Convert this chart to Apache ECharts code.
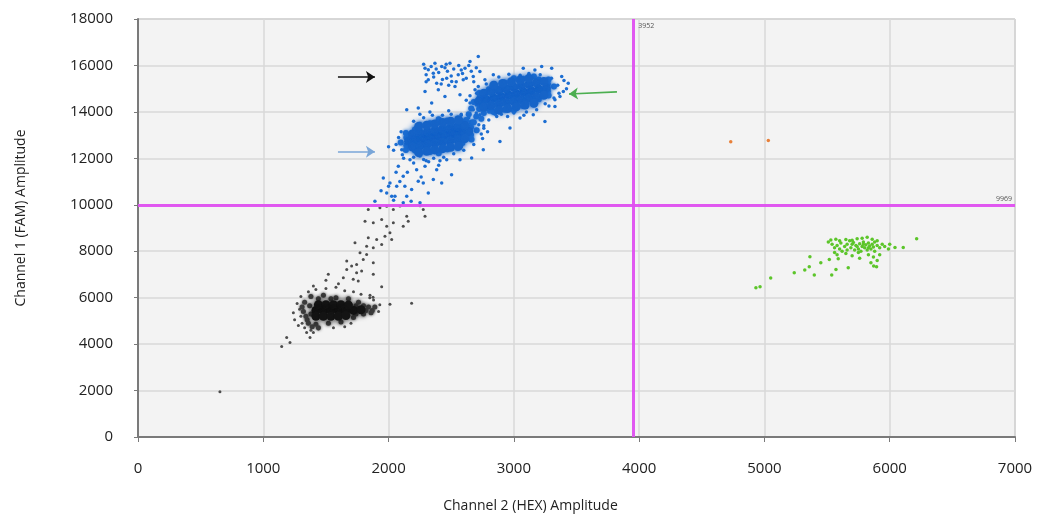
<!DOCTYPE html>
<html>
<head>
<meta charset="utf-8">
<script src="https://cdn.jsdelivr.net/npm/echarts@6/dist/echarts.min.js"></script>
<style>html,body{margin:0;padding:0;background:#fff}#c{width:1038px;height:518px}</style>
</head>
<body>
<div id="c"></div>
<script>
// ---- axes ----
const xMin = 0, xMax = 7000, xStep = 1000;
const yMin = 0, yMax = 18000, yStep = 2000;
const xName = 'Channel 2 (HEX) Amplitude';
const yName = 'Channel 1 (FAM) Amplitude';

// ---- thresholds ----
const hexThreshold = 3952;
const famThreshold = 9969;

// ---- annotation arrows (data units: from -> to) ----
const arrowBlack = [[1596, 15507], [1891, 15507]];
const arrowLightBlue = [[1596, 12285], [1891, 12285]];
const arrowGreen = [[3823, 14860], [3440, 14770]];

// ---- blue (FAM+) droplets ----
const blueCore = [
  // lower dense cluster
  [2160,12741],[2220,12793],[2280,12846],[2340,12898],[2400,12950],[2460,13002],[2520,13054],[2580,13107],[2640,13159],
  [2190,13047],[2250,13099],[2310,13152],[2370,13204],[2430,13256],[2490,13308],[2550,13361],[2610,13413],
  [2190,12487],[2250,12539],[2310,12592],[2370,12644],[2430,12696],[2490,12748],[2550,12801],[2610,12853],
  [2240,13371],[2304,13426],[2368,13482],[2432,13538],[2496,13594],[2560,13649],
  [2240,12251],[2304,12306],[2368,12362],[2432,12418],[2496,12474],[2560,12529],
  // upper dense cluster
  [2720,14466],[2780,14529],[2840,14592],[2900,14655],[2960,14718],[3020,14781],[3080,14844],[3140,14907],[3200,14970],[3260,15033],
  [2760,14808],[2820,14871],[2880,14934],[2940,14997],[3000,15060],[3060,15123],[3120,15186],[3180,15249],[3240,15312],
  [2760,14208],[2820,14271],[2880,14334],[2940,14397],[3000,14460],[3060,14523],[3120,14586],[3180,14649],[3240,14712],
  [2840,15152],[2910,15225],[2980,15299],[3050,15373],[3120,15446],
  [2880,14074],[2950,14147],[3020,14221],[3090,14295],[3160,14368]
];
const blueRing = [
  [2703,13214],[2662,13543],[2552,13714],[2400,13680],[2248,13450],[2138,13087],[2097,12686],[2138,12357],
  [2248,12186],[2400,12220],[2552,12450],[2662,12813],
  [2658,13340],[2589,13568],[2469,13630],[2331,13510],[2211,13240],[2142,12892],[2142,12560],[2211,12332],
  [2331,12270],[2469,12390],[2589,12660],[2658,13008],
  [3320,15096],[3277,15396],[3160,15526],[3000,15450],[2840,15190],[2723,14814],[2680,14424],[2723,14124],
  [2840,13994],[3000,14070],[3160,14330],[3277,14706],
  [3272,15203],[3199,15398],[3073,15423],[2927,15269],[2801,14980],[2728,14631],[2728,14317],[2801,14122],
  [2927,14097],[3073,14251],[3199,14540],[3272,14889],
  [2640,13900],[2700,13800],[2760,13950],[2820,14050],[2620,13650],[2680,13550],[2740,13700],[2660,14150]
];
const blueDots = [
  // halo around lower cluster
  [2060,12600],[2080,12900],[2100,13150],[2040,12350],[2110,12150],[2000,12500],
  [2200,13600],[2280,13750],[2350,13850],[2430,13850],[2500,13900],[2580,13850],[2640,13750],[2250,13900],
  [2145,14090],[2237,14163],[2330,14000],[2480,14050],
  [2200,12050],[2280,11950],[2360,12000],[2440,12050],[2520,12200],[2600,12350],[2680,12600],[2320,11850],[2410,11900],
  [2740,13050],[2760,13300],[2720,13450],[2790,13150],[2750,12850],
  // tail toward threshold
  [1891,10152],[1985,10512],[2025,10366],[2065,10796],[2117,11225],[2078,11655],[2171,11943],[2224,11513],
  [2277,10942],[2317,10512],[2251,10083],[2145,10366],[2105,12372],[2384,11513],[2503,11298],[2570,11943],
  [2464,11943],[2331,12372],[2197,12372],[2011,10942],[1958,11156],[2051,10366],[2117,10083],[2184,10654],
  [2237,11011],[2291,11655],[2357,11084],[2424,10942],[2889,12730],[2663,12016],[2756,12372],
  [1940,10600],[2000,10800],[2090,11000],[2150,11400],[2200,11800],[2130,10800],[2260,11200],[2040,10200],
  [2180,10150],[2300,11900],[2400,11700],[2060,11400],[2120,12000],[2250,12100],
  // halo around upper cluster
  [3434,15237],[3395,14877],[3368,14662],[3328,14520],[3382,15521],[3222,15951],[3302,15882],[3168,15809],
  [3075,15882],[2836,15594],[2769,15380],[2716,15092],[2703,14808],[2650,14378],[2676,14091],[2729,13876],
  [2863,13803],[2969,13305],[3248,13588],[3155,13876],[3049,13734],[3328,14233],[3182,14091],
  [2650,14700],[2690,14950],[2780,15200],[2880,15500],[2960,15620],[3050,15580],[3120,15650],[3210,15600],
  [3300,15450],[3350,15150],[3360,14800],[3320,14600],[3250,14350],[3100,14000],[3000,13950],[2900,13900],
  [2800,14000],[2700,14300],[2620,14500],[3420,15000],[3400,15350],[2950,13800],[3080,13850],[3280,14250],
  [2800,13650],[2580,13900],[2720,14200],[2850,13900],[2600,13300],[2760,13400],[2700,13950],[2780,14250],
  // sparse top cluster
  [2291,15882],[2317,15380],[2291,14877],[2357,15667],[2384,15237],[2424,15951],[2464,15452],[2490,16097],
  [2530,15092],[2556,15594],[2610,15882],[2650,16167],[2676,15521],[2716,16381],[2729,15737],[2570,14735],
  [2450,14662],[2344,14378],[2397,14950],[2504,15307],[2596,15380],[2370,16097],[2317,15810],
  [2300,15600],[2340,15950],[2400,15700],[2430,15400],[2470,15750],[2500,15550],[2520,15850],[2560,16000],
  [2590,15650],[2620,15450],[2660,15750],[2700,15900],[2460,16050],[2380,15850],[2300,15300],[2540,15300],
  [2420,15200],[2480,15150],[2680,15300],[2640,16000],[2280,16050],[2360,15500],[2450,15900],[2580,15800]
];

// ---- grey (double negative) droplets ----
const greyCore = [
  [1420,5450],[1480,5450],[1540,5450],[1600,5450],[1660,5450],[1720,5450],[1780,5480],
  [1440,5700],[1500,5700],[1560,5700],[1620,5700],[1680,5680],
  [1420,5200],[1480,5200],[1540,5200],[1600,5200],[1660,5230]
];
const greyRing = [
  [1320,5400],[1330,5800],[1350,5050],[1380,6050],[1420,4850],[1480,6100],[1520,4900],[1580,6000],
  [1620,4950],[1680,5950],[1720,5150],[1760,5800],[1800,5300],[1840,5600],[1870,5450],[1890,5600],
  [1310,5600],[1340,5200],[1820,5450],[1800,5650],[1360,4900],[1390,4750],[1440,4700],[1370,5650],
  [1380,5300],[1740,5300],[1740,5650],[1540,5950],[1440,5950],[1860,5350]
];
const greyDots = [
  [1290,5500],[1300,5200],[1310,4900],[1330,4700],[1380,4600],[1400,4500],[1440,4650],[1360,6250],
  [1420,6350],[1500,6400],[1580,6450],[1650,6300],[1720,6250],[1780,6150],[1850,6000],[1880,5900],
  [1930,5700],[1920,5400],[1560,4700],[1650,4750],[1240,5350],[1270,5750],[1300,6050],[1250,5050],
  [1280,4800],[1346,4498],[1373,4283],[1187,4283],[1213,4068],[1147,3896],[654,1946],[2011,5713],
  [2184,5756],[1945,6474],[1852,6100],[1876,6020],[1700,4900],[1600,6600],[1500,6750],[1400,6500],
  [1838,9795],[1931,9867],[1985,9937],[2038,9795],[2091,9950],[2145,9507],[2251,9960],[2277,9795],
  [2291,9507],[1812,9292],[1878,9223],[1945,9365],[1985,9077],[2038,9223],[2117,9077],[2157,9292],
  [1838,8579],[1905,8506],[1971,8648],[2025,8506],[2011,8794],[1732,8364],[1825,8218],[1878,8150],
  [1945,8291],[1772,7935],[1825,7862],[1666,7574],[1705,7359],[1745,7432],[1798,7647],[1878,7505],
  [1666,7217],[1745,7075],[1785,7144],[1878,7003],[1519,7003],[1639,6861],[1718,6788],[1758,6715]
];

// ---- green (HEX+) droplets ----
const greenDots = [
  [5530,8480],[5570,8520],[5600,8450],[5650,8500],[5700,8470],[5740,8540],[5780,8560],[5820,8600],
  [5860,8520],[5900,8450],[5510,8400],
  [5540,8300],[5580,8250],[5610,8350],[5640,8200],[5660,8300],[5690,8150],[5710,8380],[5730,8250],
  [5750,8100],[5760,8320],[5780,8200],[5790,8400],[5800,8150],[5810,8280],[5820,8050],[5830,8350],
  [5840,8220],[5850,8100],[5860,8300],[5870,8180],[5880,8400],[5900,8250],[5920,8150],[5940,8300],
  [5960,8200],[5680,8450],[5720,8050],[5770,8000],[5600,8100],[5560,8150],[5660,8050],[5700,8300],
  [5740,8200],[5790,8300],[5830,8150],[5880,8000],[5620,8000],[5750,7950],
  [5580,7850],[5650,7900],[5700,7800],[5760,7700],[5830,7850],[5870,7750],[5900,7600],[5920,7850],
  [5850,7500],[5560,7950],
  [6042,8160],[6108,8160],[6215,8536],[5990,8100],[6000,8300],
  [5518,7647],[5589,7675],[5363,7762],[5358,7332],[5322,7190],[5398,6973],[5238,7075],[5050,6843],
  [4965,6474],[4932,6430],[5537,6973],[5571,7217],[5669,7290],[5895,7332],[5872,7362],[5450,7500]
];

// ---- orange (double positive) droplets ----
const orangeDots = [[4731,12716],[5031,12772]];

const BLUE = '#1d6ed2', GREEN = '#5cc52a', ORANGE = '#e8803a', MAGENTA = '#df4ff0';
const FONT = 'Open Sans';

function dots(data, color, size, z, blur) {
  const style = { color: color, opacity: 1 };
  if (blur) { style.shadowBlur = blur; style.shadowColor = color; }
  return { type: 'scatter', data: data, symbol: 'circle', symbolSize: size, z: z || 2,
    itemStyle: style, silent: true, animation: false };
}
function arrow(pts, color) {
  return [{ coord: pts[0], lineStyle: { color: color }, itemStyle: { color: color } }, { coord: pts[1] }];
}
const plain = v => String(v);

const chart = echarts.init(document.getElementById('c'), null, { renderer: 'canvas' });
chart.setOption({
  animation: false,
  backgroundColor: '#ffffff',
  grid: { left: 138, right: 23, top: 19, bottom: 80, show: true, backgroundColor: '#f3f3f3',
          borderColor: '#a8a8a8', borderWidth: 1 },
  xAxis: {
    type: 'value', min: xMin, max: xMax, interval: xStep,
    name: xName, nameLocation: 'middle', nameGap: 62,
    nameTextStyle: { fontFamily: FONT, fontSize: 14, color: '#222', padding: [0, 92, 0, 0] },
    axisLine: { show: true, onZero: false, lineStyle: { color: '#7a7a7a', width: 2 } },
    axisTick: { show: true, length: 5, lineStyle: { color: '#7a7a7a' } },
    axisLabel: { margin: 24, fontFamily: FONT, fontSize: 15, color: '#222', formatter: plain },
    splitLine: { show: true, lineStyle: { color: '#d8d8d8', width: 1.5 } }
  },
  yAxis: {
    type: 'value', min: yMin, max: yMax, interval: yStep,
    name: yName, nameLocation: 'middle', nameGap: 110,
    nameTextStyle: { fontFamily: FONT, fontSize: 14, color: '#222', padding: [0, 0, 0, 20] },
    axisLine: { show: true, onZero: false, lineStyle: { color: '#7a7a7a', width: 2 } },
    axisTick: { show: true, length: 4, lineStyle: { color: '#7a7a7a' } },
    axisLabel: { margin: 25, fontFamily: FONT, fontSize: 15, color: '#222', formatter: plain },
    splitLine: { show: true, lineStyle: { color: '#d8d8d8', width: 1.5 } }
  },
  series: [
    dots(greyDots, '#4d4d4d', 3, 2),
    dots(greyRing, '#3c3c3c', 5, 3, 3),
    dots(greyCore, '#141414', 9, 4, 7),
    dots(blueDots, BLUE, 3.5, 2),
    dots(blueRing, BLUE, 6, 3, 3),
    dots(blueCore, '#1664c8', 9, 4, 6),
    dots(greenDots, GREEN, 3.5, 2),
    dots(orangeDots, ORANGE, 3.5, 2),
    {
      type: 'scatter', data: [], z: 10, silent: true,
      markLine: {
        silent: true, animation: false, symbol: ['none', 'none'],
        label: { show: false },
        lineStyle: { color: MAGENTA, width: 3, type: 'solid', opacity: 0.95 },
        data: [ { xAxis: hexThreshold }, { yAxis: famThreshold } ]
      },
      markPoint: {
        silent: true, animation: false, symbol: 'circle', symbolSize: 0,
        label: { show: true, fontFamily: FONT, fontSize: 7, color: '#555' },
        data: [
          { coord: [hexThreshold, yMax], label: { formatter: String(hexThreshold), position: 'right', offset: [0, 7] } },
          { coord: [xMax, famThreshold], label: { formatter: String(famThreshold), position: 'left', offset: [2, -6] } }
        ]
      }
    },
    {
      type: 'scatter', data: [], z: 11, silent: true,
      markLine: {
        silent: true, animation: false, symbol: ['none', 'arrow'], symbolSize: 9,
        label: { show: false },
        lineStyle: { width: 1.6, type: 'solid' },
        data: [ arrow(arrowBlack, '#111111'), arrow(arrowLightBlue, '#7aa6d8'), arrow(arrowGreen, '#4caf50') ]
      }
    }
  ]
});
</script>
</body>
</html>
